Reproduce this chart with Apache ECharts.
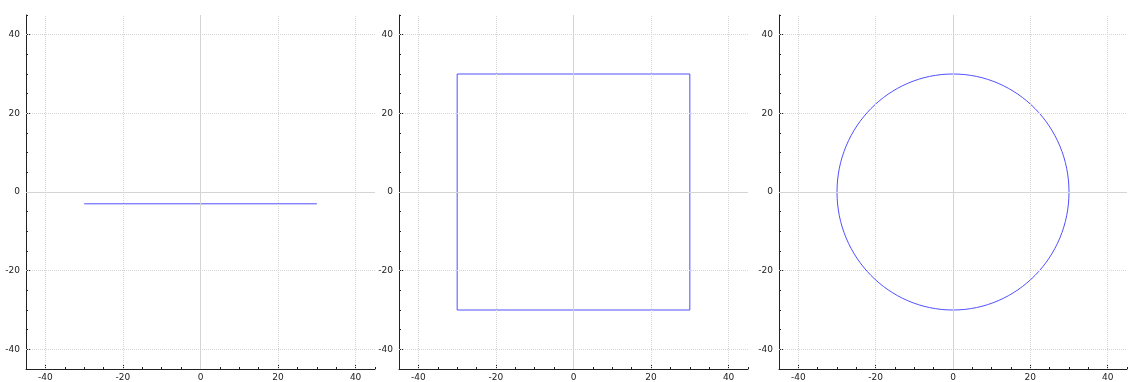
<!DOCTYPE html>
<html>
<head>
<meta charset="utf-8">
<script src="https://cdn.jsdelivr.net/npm/echarts@6/dist/echarts.min.js"></script>
<style>
html,body{margin:0;padding:0;background:#fff;}
#chart{width:1130px;height:382px;}
</style>
</head>
<body>
<div id="chart"></div>
<script>
// ---- data ----
const xTickLabels = [-40, -20, 0, 20, 40];
const yTickLabels = [-40, -20, 0, 20, 40];
const axisMin = -45;
const axisMax = 45;
const minorStep = 5;
const lineSegment = [[-30, -3], [30, -3]];
const squarePath = [[-30, -30], [30, -30], [30, 30], [-30, 30], [-30, -30]];
const circleShape = [[0, 0, 30]]; // centre x, centre y, radius

// ---- styles ----
const BLUE = '#5050ff';
const AXIS = '#222222';
const LABEL = '#222222';
const FONT = 'DejaVu Sans';
const grids = [
  {left: 26, top: 15, width: 349, height: 354},
  {left: 399, top: 15, width: 349, height: 354},
  {left: 779, top: 15, width: 349, height: 354}
];

const xAxis = [], yAxis = [], series = [];
grids.forEach((g, gi) => {
  xAxis.push({
    type: 'value', gridIndex: gi, min: axisMin, max: axisMax, interval: minorStep, position: 'bottom',
    axisLine: {show: true, onZero: false, lineStyle: {color: AXIS, width: 1}},
    axisTick: {show: true, inside: true, length: 2, lineStyle: {color: AXIS}},
    axisLabel: {show: true, margin: 4, color: LABEL, fontSize: 9, fontFamily: FONT,
      formatter: v => xTickLabels.includes(v) ? String(v) : ''},
    splitLine: {show: false}
  });
  xAxis.push({
    type: 'value', gridIndex: gi, min: axisMin, max: axisMax, position: 'bottom',
    axisLine: {show: false, onZero: false},
    axisTick: {show: true, inside: true, length: 4, customValues: xTickLabels, lineStyle: {color: AXIS}},
    axisLabel: {show: false},
    splitLine: {show: false}
  });
  yAxis.push({
    type: 'value', gridIndex: gi, min: axisMin, max: axisMax, interval: minorStep, position: 'left',
    axisLine: {show: true, onZero: false, lineStyle: {color: AXIS, width: 1}},
    axisTick: {show: true, inside: true, length: 2, lineStyle: {color: AXIS}},
    axisLabel: {show: true, margin: 6, color: LABEL, fontSize: 9, fontFamily: FONT,
      formatter: v => yTickLabels.includes(v) ? String(v) : ''},
    splitLine: {show: false}
  });
  yAxis.push({
    type: 'value', gridIndex: gi, min: axisMin, max: axisMax, position: 'left',
    axisLine: {show: false, onZero: false},
    axisTick: {show: true, inside: true, length: 4, customValues: yTickLabels, lineStyle: {color: AXIS}},
    axisLabel: {show: false},
    splitLine: {show: false}
  });

  const dotted = {color: '#d6d6d6', type: [1, 1], width: 1};
  const solid = {color: '#d4d4d4', type: 'solid', width: 1};
  const mlData = [];
  xTickLabels.forEach(v => mlData.push({xAxis: v, lineStyle: v === 0 ? solid : dotted}));
  yTickLabels.forEach(v => mlData.push({yAxis: v, lineStyle: v === 0 ? solid : dotted}));
  series.push({
    type: 'line', xAxisIndex: gi * 2, yAxisIndex: gi * 2, data: [], z: 1, silent: true,
    markLine: {silent: true, symbol: ['none', 'none'], animation: false, label: {show: false},
      emphasis: {disabled: true}, data: mlData}
  });
});

series.push({
  type: 'line', xAxisIndex: 0, yAxisIndex: 0, data: lineSegment, z: 3, showSymbol: false, symbol: 'none',
  lineStyle: {color: BLUE, width: 1}, animation: false, silent: true
});
series.push({
  type: 'line', xAxisIndex: 2, yAxisIndex: 2, data: squarePath, z: 3, showSymbol: false, symbol: 'none',
  lineStyle: {color: BLUE, width: 1}, animation: false, silent: true
});
series.push({
  type: 'custom', xAxisIndex: 4, yAxisIndex: 4, data: circleShape, z: 3, silent: true, animation: false,
  encode: {x: 0, y: 1},
  renderItem: (params, api) => {
    const c = api.coord([api.value(0), api.value(1)]);
    const s = api.size([api.value(2), api.value(2)]);
    return {type: 'ellipse', shape: {cx: c[0], cy: c[1], rx: s[0], ry: s[1]},
      style: {fill: 'none', stroke: BLUE, lineWidth: 1}};
  }
});

const chart = echarts.init(document.getElementById('chart'), null, {renderer: 'canvas'});
chart.setOption({
  animation: false,
  grid: grids,
  xAxis: xAxis,
  yAxis: yAxis,
  series: series
});
</script>
</body>
</html>
